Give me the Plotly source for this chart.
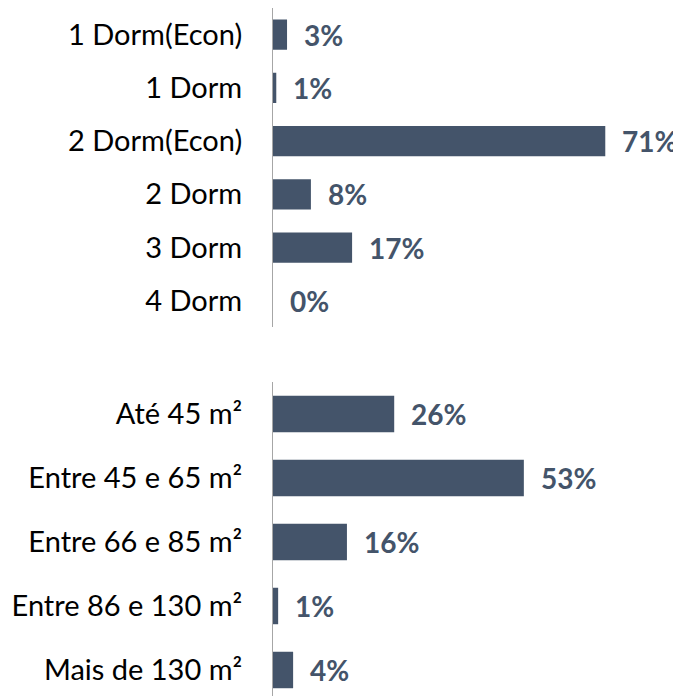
import plotly.graph_objects as go
from plotly.subplots import make_subplots

dorm_labels = ["1 Dorm(Econ)", "1 Dorm", "2 Dorm(Econ)", "2 Dorm", "3 Dorm", "4 Dorm"]
dorm_values = [3, 0.7, 71, 8.1, 16.9, 0]
dorm_text = ["3%", "1%", "71%", "8%", "17%", "0%"]

area_labels = ["Até 45 m²", "Entre 45 e 65 m²", "Entre 66 e 85 m²", "Entre 86 e 130 m²", "Mais de 130 m²"]
area_values = [25.9, 53.6, 15.8, 1.1, 4.3]
area_text = ["26%", "53%", "16%", "1%", "4%"]

BAR = "#44546A"
FONT = "Lato"
W, H = 673, 688          # page body has an 8px margin
AX = 265                 # axis position in figure pixels
XMAX = (W - AX) / 4.68

fig = make_subplots(rows=2, cols=1)

fig.add_trace(go.Bar(y=dorm_labels, x=dorm_values, orientation="h",
                     marker=dict(color=BAR, line=dict(width=0)), hoverinfo="skip"), row=1, col=1)
fig.add_trace(go.Bar(y=area_labels, x=area_values, orientation="h",
                     marker=dict(color=BAR, line=dict(width=0)), hoverinfo="skip"), row=2, col=1)

for lab, v, t in zip(dorm_labels, dorm_values, dorm_text):
    fig.add_annotation(x=v, y=lab, xref="x", yref="y", text=t, showarrow=False,
                       xanchor="left", xshift=15,
                       font=dict(family=FONT, size=28, color=BAR, weight="bold"))
for lab, v, t in zip(area_labels, area_values, area_text):
    fig.add_annotation(x=v, y=lab, xref="x2", yref="y2", text=t, showarrow=False,
                       xanchor="left", xshift=15,
                       font=dict(family=FONT, size=28, color=BAR, weight="bold"))

fig.update_xaxes(showgrid=False, zeroline=False, showticklabels=False, range=[0, XMAX],
                 domain=[AX / W, 1], automargin=False)

yfont = dict(family=FONT, size=29, color="#000000")
fig.update_yaxes(showgrid=False, zeroline=False, showline=True, linecolor="#A6A6A6",
                 linewidth=1, tickfont=yfont, ticks="", ticklabelstandoff=24,
                 type="category", automargin=False)
fig.update_layout(
    yaxis=dict(domain=[(H - 319.4) / H, 1], range=[5.5, -0.5]),
    yaxis2=dict(domain=[0, (H - 374) / H], range=[4.5 - 6 / 64.1, -0.5]),
    bargap=0.43,
    width=W, height=H,
    margin=dict(l=0, r=0, t=0, b=0),
    plot_bgcolor="white", paper_bgcolor="white",
    showlegend=False,
)

fig.write_html("out.html")
